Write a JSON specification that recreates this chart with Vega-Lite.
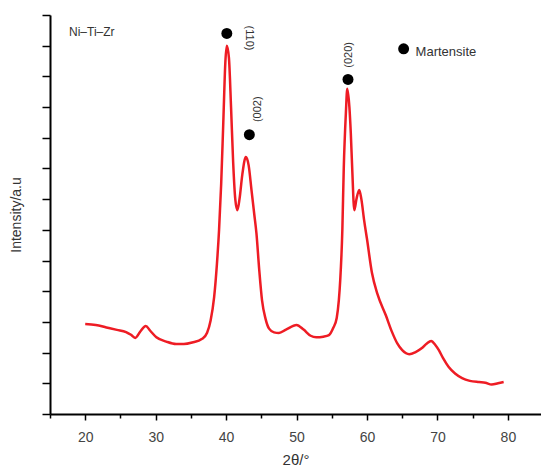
{
  "$schema": "https://vega.github.io/schema/vega-lite/v6.json",
  "width": 491,
  "height": 399,
  "autosize": {"type": "none"},
  "padding": {"left": 50, "top": 15, "right": 0, "bottom": 55},
  "config": {
    "view": {"stroke": null},
    "font": "Liberation Sans",
    "axis": {"grid": false, "domainColor": "#000", "domainWidth": 2, "tickColor": "#000", "tickWidth": 1.5, "labelColor": "#444", "titleColor": "#333", "labelFont": "Liberation Sans", "titleFont": "Liberation Sans", "labelFontSize": 14, "titleFontSize": 13, "titleFontWeight": "normal"}
  },
  "datasets": {
    "curve": [
      {"t": 20.0, "i": 2.93}, {"t": 21.5, "i": 2.9}, {"t": 23.0, "i": 2.82}, {"t": 24.5, "i": 2.74},
      {"t": 25.8, "i": 2.67}, {"t": 26.5, "i": 2.58}, {"t": 27.1, "i": 2.48}, {"t": 27.8, "i": 2.68},
      {"t": 28.6, "i": 2.87}, {"t": 29.2, "i": 2.72}, {"t": 30.1, "i": 2.5}, {"t": 31.5, "i": 2.36},
      {"t": 32.9, "i": 2.28}, {"t": 34.0, "i": 2.28}, {"t": 35.2, "i": 2.33}, {"t": 36.6, "i": 2.45},
      {"t": 37.3, "i": 2.65}, {"t": 37.8, "i": 3.05}, {"t": 38.3, "i": 3.81}, {"t": 38.7, "i": 4.9},
      {"t": 39.0, "i": 6.0}, {"t": 39.3, "i": 7.5}, {"t": 39.6, "i": 9.5}, {"t": 39.9, "i": 11.5},
      {"t": 40.1, "i": 12.0}, {"t": 40.4, "i": 11.6}, {"t": 40.7, "i": 10.0}, {"t": 41.0, "i": 8.2},
      {"t": 41.3, "i": 7.0}, {"t": 41.6, "i": 6.64}, {"t": 41.9, "i": 7.0}, {"t": 42.3, "i": 7.8},
      {"t": 42.8, "i": 8.37}, {"t": 43.2, "i": 8.1}, {"t": 43.6, "i": 7.3}, {"t": 44.0, "i": 6.5},
      {"t": 44.3, "i": 5.9}, {"t": 44.7, "i": 4.7}, {"t": 45.1, "i": 3.7}, {"t": 45.6, "i": 3.1},
      {"t": 46.1, "i": 2.78}, {"t": 46.8, "i": 2.66}, {"t": 47.5, "i": 2.64}, {"t": 48.5, "i": 2.75},
      {"t": 50.0, "i": 2.9}, {"t": 51.0, "i": 2.75}, {"t": 52.0, "i": 2.55}, {"t": 52.8, "i": 2.5},
      {"t": 53.8, "i": 2.52}, {"t": 54.6, "i": 2.57}, {"t": 55.2, "i": 2.8}, {"t": 55.7, "i": 3.13},
      {"t": 56.0, "i": 3.7}, {"t": 56.2, "i": 4.36}, {"t": 56.5, "i": 6.0}, {"t": 56.7, "i": 8.0},
      {"t": 57.0, "i": 9.8}, {"t": 57.2, "i": 10.6}, {"t": 57.5, "i": 10.0}, {"t": 57.7, "i": 9.15},
      {"t": 57.9, "i": 8.0}, {"t": 58.2, "i": 6.64}, {"t": 58.5, "i": 7.0}, {"t": 58.9, "i": 7.3},
      {"t": 59.2, "i": 7.0}, {"t": 59.6, "i": 6.3}, {"t": 60.0, "i": 5.7}, {"t": 60.7, "i": 4.6},
      {"t": 61.5, "i": 3.9}, {"t": 62.7, "i": 3.2}, {"t": 63.5, "i": 2.7}, {"t": 64.3, "i": 2.3},
      {"t": 65.0, "i": 2.08}, {"t": 66.0, "i": 1.95}, {"t": 66.9, "i": 2.02}, {"t": 67.8, "i": 2.15},
      {"t": 68.5, "i": 2.3}, {"t": 69.1, "i": 2.38}, {"t": 69.7, "i": 2.25}, {"t": 70.2, "i": 2.08},
      {"t": 70.8, "i": 1.82}, {"t": 71.6, "i": 1.53}, {"t": 72.5, "i": 1.32}, {"t": 73.5, "i": 1.17},
      {"t": 74.6, "i": 1.08}, {"t": 75.9, "i": 1.04}, {"t": 76.8, "i": 1.02}, {"t": 77.7, "i": 0.96},
      {"t": 78.6, "i": 1.0}, {"t": 79.4, "i": 1.04}
    ],
    "dots": [
      {"t": 40.1, "i": 12.4}, {"t": 43.3, "i": 9.1}, {"t": 57.3, "i": 10.9}, {"t": 65.2, "i": 11.9}
    ],
    "hkl": [
      {"t": 43.3, "i": 12.25, "label": "(110)", "rot": 90},
      {"t": 44.5, "i": 9.93, "label": "(002)", "rot": 270},
      {"t": 57.5, "i": 11.7, "label": "(020)", "rot": 270}
    ],
    "notes": [
      {"t": 17.7, "i": 12.44, "label": "Ni–Ti–Zr", "size": 12},
      {"t": 66.9, "i": 11.78, "label": "Martensite", "size": 13}
    ]
  },
  "layer": [
    {
      "data": {"name": "curve"},
      "mark": {"type": "line", "color": "#ee1c24", "strokeWidth": 2.5, "interpolate": "monotone"},
      "encoding": {
        "x": {"field": "t", "type": "quantitative", "scale": {"domain": [15, 84.7], "nice": false, "zero": false},
          "axis": {"values": [15, 20, 25, 30, 35, 40, 45, 50, 55, 60, 65, 70, 75, 80], "tickCount": 30, "labelOverlap": false, "labelExpr": "datum.value % 10 === 0 ? datum.label : ''", "tickSize": {"condition": {"test": "datum.value % 10 === 0", "value": 6}, "value": 4}, "labelPadding": 10, "title": "2θ/°", "titlePadding": 8, "titleFontSize": 15}},
        "y": {"field": "i", "type": "quantitative", "scale": {"domain": [0, 13], "nice": false},
          "axis": {"values": [0, 1, 2, 3, 4, 5, 6, 7, 8, 9, 10, 11, 12, 13], "tickCount": 30, "labels": false, "tickSize": 8, "title": "Intensity/a.u", "titlePadding": 18, "titleFontSize": 14}}
      }
    },
    {
      "data": {"name": "dots"},
      "mark": {"type": "point", "filled": true, "color": "#000", "size": 120, "opacity": 1},
      "encoding": {
        "x": {"field": "t", "type": "quantitative"},
        "y": {"field": "i", "type": "quantitative"}
      }
    },
    {
      "data": {"name": "hkl"},
      "mark": {"type": "text", "align": "center", "baseline": "middle", "fontSize": 11, "color": "#333"},
      "encoding": {
        "x": {"field": "t", "type": "quantitative"},
        "y": {"field": "i", "type": "quantitative"},
        "text": {"field": "label"},
        "angle": {"field": "rot", "type": "quantitative", "scale": null}
      }
    },
    {
      "data": {"name": "notes"},
      "mark": {"type": "text", "align": "left", "baseline": "middle", "color": "#333"},
      "encoding": {
        "x": {"field": "t", "type": "quantitative"},
        "y": {"field": "i", "type": "quantitative"},
        "text": {"field": "label"},
        "size": {"field": "size", "type": "quantitative", "scale": null}
      }
    }
  ]
}
